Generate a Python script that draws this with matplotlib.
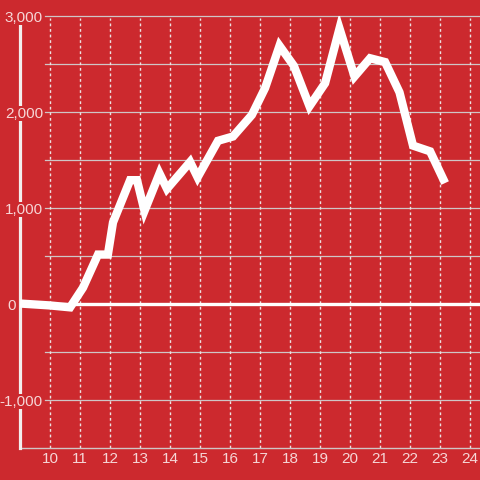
import matplotlib
matplotlib.use("Agg")
import matplotlib.pyplot as plt
import matplotlib.transforms as mtransforms

# ---- data ----
months = [9.0, 10.0, 10.67, 11.1, 11.6, 11.93, 12.1, 12.67, 12.9, 13.15, 13.65, 13.9,
          14.67, 14.92, 15.6, 16.1, 16.73, 17.17, 17.65, 18.13, 18.65, 19.17, 19.65,
          20.15, 20.67, 21.17, 21.65, 22.1, 22.67, 23.17]
values = [5, -15, -35, 170, 515, 515, 850, 1290, 1290, 970, 1360, 1200,
          1480, 1320, 1700, 1745, 1970, 2250, 2690, 2480, 2060, 2300, 2870,
          2370, 2560, 2520, 2205, 1650, 1590, 1260]
x_ticks = list(range(10, 25))
y_ticks = [-1000, 0, 1000, 2000, 3000]
y_tick_labels = ["-1,000", "0", "1,000", "2,000", "3,000"]
y_grid = [-1000, -500, 500, 1000, 1500, 2000, 2500, 3000]

BG = "#cc292e"
TXT = "#f6d6d6"
FS = 11
plt.rcParams["font.family"] = ["Liberation Sans", "DejaVu Sans"]

fig = plt.figure(figsize=(4.8, 4.8), dpi=100, facecolor=BG)
ax = fig.add_axes([20 / 480, 32 / 480, 460 / 480, 432 / 480])
ax.set_facecolor(BG)
ax.set_xlim(9, 9 + 460 / 30)
ax.set_ylim(-1500, 3000)
for s in ax.spines.values():
    s.set_visible(False)

# grid
for g in y_grid:
    ax.axhline(g, xmin=25 / 460, xmax=1, color="#cfc6c6", lw=0.9, zorder=1, clip_on=False)
for xt in x_ticks:
    ax.axvline(xt, ymin=0, ymax=(430 / 432), color="#ece2e2", lw=1.0,
               ls=(0, (2, 2)), zorder=1)
# bottom axis line
ax.axhline(-1500, color="#cfc6c6", lw=1.0, zorder=1.2, clip_on=False)
# zero line
ax.axhline(0, color="white", lw=2.4, zorder=1.5)
# y axis line
ax.axvline(9, ymin=0, ymax=1, color="#f3eeee", lw=2.3, zorder=1.6, clip_on=False)

# data line
ax.plot(months, values, color="white", lw=6.0, solid_joinstyle="miter",
        solid_capstyle="butt", zorder=3)

# x ticks
ax.set_xticks(x_ticks)
ax.set_xticklabels([str(v) for v in x_ticks])
ax.tick_params(axis="x", length=0, pad=3, labelsize=FS, labelcolor=TXT)
ax.set_yticks([])

# y tick labels (with background boxes covering the axis line)
trans = mtransforms.blended_transform_factory(ax.transAxes, ax.transData)
for v, lab in zip(y_ticks, y_tick_labels):
    if lab == "0":
        xpos = -4 / 460
    else:
        xpos = 23 / 460
    ax.text(xpos, v, lab, transform=trans, ha="right", va="center_baseline",
            fontsize=FS, color=TXT, zorder=2.5, clip_on=False,
            bbox=dict(facecolor=BG, edgecolor="none", pad=0.5))

fig.savefig("out.png", dpi=100, facecolor=BG)
